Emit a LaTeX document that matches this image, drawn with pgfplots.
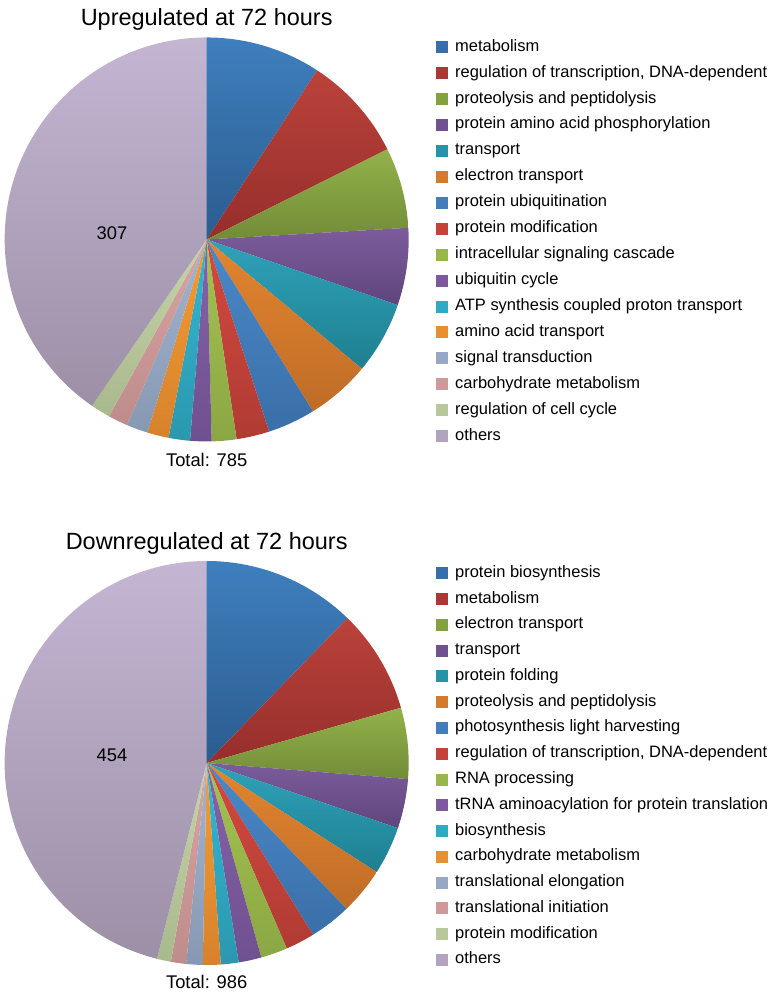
\documentclass[border=0pt]{standalone}
\usepackage{pgfplots}
\pgfplotsset{compat=1.18}
\usepackage{fontspec}
\setmainfont{Liberation Sans}

\definecolor{t1}{HTML}{3F7FBE}\definecolor{b1}{HTML}{2B5C8F}
\definecolor{t2}{HTML}{BB423B}\definecolor{b2}{HTML}{962E2B}
\definecolor{t3}{HTML}{93B24A}\definecolor{b3}{HTML}{728C38}
\definecolor{t4}{HTML}{7C5C9C}\definecolor{b4}{HTML}{5F457C}
\definecolor{t5}{HTML}{2FA2BA}\definecolor{b5}{HTML}{1F7F90}
\definecolor{t6}{HTML}{E3852F}\definecolor{b6}{HTML}{BF6C28}
\definecolor{t7}{HTML}{4A89C9}\definecolor{b7}{HTML}{3A6FA8}
\definecolor{t8}{HTML}{D34A40}\definecolor{b8}{HTML}{B03B33}
\definecolor{t9}{HTML}{A5C350}\definecolor{b9}{HTML}{8AA744}
\definecolor{t10}{HTML}{8763A8}\definecolor{b10}{HTML}{6F5090}
\definecolor{t11}{HTML}{35B7D2}\definecolor{b11}{HTML}{2A98AF}
\definecolor{t12}{HTML}{F59C36}\definecolor{b12}{HTML}{D7822C}
\definecolor{t13}{HTML}{A2B5D2}\definecolor{b13}{HTML}{8798B2}
\definecolor{t14}{HTML}{DAA5A4}\definecolor{b14}{HTML}{BD8C8B}
\definecolor{t15}{HTML}{C5D5A6}\definecolor{b15}{HTML}{A9B98E}
\definecolor{t16}{HTML}{C4B6D3}\definecolor{b16}{HTML}{9C8FA6}
\colorlet{m1}{t1!55!b1}\colorlet{m2}{t2!55!b2}\colorlet{m3}{t3!55!b3}\colorlet{m4}{t4!55!b4}
\colorlet{m5}{t5!55!b5}\colorlet{m6}{t6!55!b6}\colorlet{m7}{t7!55!b7}\colorlet{m8}{t8!55!b8}
\colorlet{m9}{t9!55!b9}\colorlet{m10}{t10!55!b10}\colorlet{m11}{t11!55!b11}\colorlet{m12}{t12!55!b12}
\colorlet{m13}{t13!55!b13}\colorlet{m14}{t14!55!b14}\colorlet{m15}{t15!55!b15}\colorlet{m16}{t16!55!b16}

% #1 = sum of the values, #2 = list of values (clockwise from 12 o'clock)
\newcommand\drawpie[2]{%
  \gdef\cum{0}%
  \foreach \v [count=\i] in {#2} {%
    \pgfmathsetmacro\a{90-\cum/#1*360}%
    \pgfmathsetmacro\b{90-(\cum+\v)/#1*360}%
    \pgfmathsetmacro\xa{cos(\a)}%
    \pgfmathsetmacro\ya{sin(\a)}%
    \edef\temp{\noexpand\shade[top color=t\i, bottom color=b\i] (axis cs:0,0) -- (axis cs:\xa,\ya) arc[start angle=\a, end angle=\b, radius=151.5pt] -- cycle;}%
    \temp
    \pgfmathsetmacro\c{\cum+\v}\xdef\cum{\c}%
  }%
}

\pgfplotsset{
  pieaxis/.style={
    hide axis, clip=false,
    x=151.5pt, y=151.5pt,
    xmin=-1, xmax=1, ymin=-1, ymax=1,
    anchor=center,
    legend image code/.code={\fill[##1,draw=none] (0pt,-4.5pt) rectangle (9pt,4.5pt);},
    legend cell align=left,
    legend style={draw=none, fill=none, inner sep=0pt, outer sep=0pt,
      anchor=north west, font=\fontsize{12.35}{14}\selectfont,
      column sep=5.25pt,
      nodes={inner sep=0pt, text height=9pt, text depth=3pt}},
  }
}

\begin{document}
\begin{tikzpicture}
\path[use as bounding box] (0,0) rectangle (578.25pt,-744pt);

% ---------- Upregulated ----------
\begin{axis}[pieaxis, at={(155pt,-179.6pt)},
  legend style={at={(axis cs:1.136,0.9916)}, row sep=7.45pt}]
\drawpie{760}{70,64,49,47,44,39,29,20,15,13,13,13,13,12,12,307}
\addlegendimage{fill=m1}\addlegendentry{metabolism}
\addlegendimage{fill=m2}\addlegendentry{regulation of transcription, DNA-dependent}
\addlegendimage{fill=m3}\addlegendentry{proteolysis and peptidolysis}
\addlegendimage{fill=m4}\addlegendentry{protein amino acid phosphorylation}
\addlegendimage{fill=m5}\addlegendentry{transport}
\addlegendimage{fill=m6}\addlegendentry{electron transport}
\addlegendimage{fill=m7}\addlegendentry{protein ubiquitination}
\addlegendimage{fill=m8}\addlegendentry{protein modification}
\addlegendimage{fill=m9}\addlegendentry{intracellular signaling cascade}
\addlegendimage{fill=m10}\addlegendentry{ubiquitin cycle}
\addlegendimage{fill=m11}\addlegendentry{ATP synthesis coupled proton transport}
\addlegendimage{fill=m12}\addlegendentry{amino acid transport}
\addlegendimage{fill=m13}\addlegendentry{signal transduction}
\addlegendimage{fill=m14}\addlegendentry{carbohydrate metabolism}
\addlegendimage{fill=m15}\addlegendentry{regulation of cell cycle}
\addlegendimage{fill=m16}\addlegendentry{others}
\node[anchor=base, font=\fontsize{17.6}{20}\selectfont] at (axis cs:0,1.061) {Upregulated at 72 hours};
\node[anchor=base, font=\fontsize{13.75}{16}\selectfont] at (axis cs:0,-1.122) {Total: 785};
\node[anchor=base, font=\fontsize{13.75}{16}\selectfont] at (axis cs:-0.469,0) {307};
\end{axis}

% ---------- Downregulated ----------
\begin{axis}[pieaxis, at={(155pt,-572.25pt)},
  legend style={at={(axis cs:1.136,0.9787)}, row sep=7.33pt}]
\drawpie{986}{121,82,56,39,38,37,33,23,21,18,14,14,13,12,11,454}
\addlegendimage{fill=m1}\addlegendentry{protein biosynthesis}
\addlegendimage{fill=m2}\addlegendentry{metabolism}
\addlegendimage{fill=m3}\addlegendentry{electron transport}
\addlegendimage{fill=m4}\addlegendentry{transport}
\addlegendimage{fill=m5}\addlegendentry{protein folding}
\addlegendimage{fill=m6}\addlegendentry{proteolysis and peptidolysis}
\addlegendimage{fill=m7}\addlegendentry{photosynthesis light harvesting}
\addlegendimage{fill=m8}\addlegendentry{regulation of transcription, DNA-dependent}
\addlegendimage{fill=m9}\addlegendentry{RNA processing}
\addlegendimage{fill=m10}\addlegendentry{tRNA aminoacylation for protein translation}
\addlegendimage{fill=m11}\addlegendentry{biosynthesis}
\addlegendimage{fill=m12}\addlegendentry{carbohydrate metabolism}
\addlegendimage{fill=m13}\addlegendentry{translational elongation}
\addlegendimage{fill=m14}\addlegendentry{translational initiation}
\addlegendimage{fill=m15}\addlegendentry{protein modification}
\addlegendimage{fill=m16}\addlegendentry{others}
\node[anchor=base, font=\fontsize{17.6}{20}\selectfont] at (axis cs:0,1.058) {Downregulated at 72 hours};
\node[anchor=base, font=\fontsize{13.75}{16}\selectfont] at (axis cs:0,-1.117) {Total: 986};
\node[anchor=base, font=\fontsize{13.75}{16}\selectfont] at (axis cs:-0.469,0.008) {454};
\end{axis}
\end{tikzpicture}
\end{document}
